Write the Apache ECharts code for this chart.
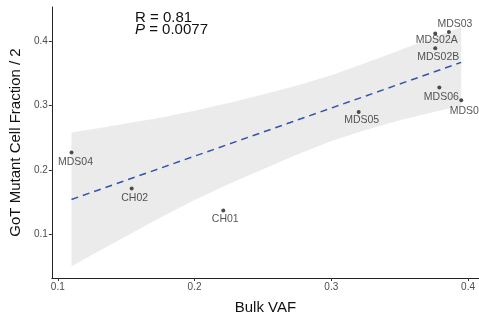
<!DOCTYPE html>
<html>
<head>
<meta charset="utf-8">
<script src="https://cdn.jsdelivr.net/npm/echarts@6/dist/echarts.min.js"></script>
<style>html,body{margin:0;padding:0;background:#fff;}#c{width:479px;height:324px;}</style>
</head>
<body>
<div id="c"></div>
<script>
// Sample data
const sampleNames = ['MDS04', 'CH02', 'CH01', 'MDS05', 'MDS06', 'MDS01', 'MDS02B', 'MDS02A', 'MDS03'];
const bulkVAF = [0.110, 0.154, 0.221, 0.320, 0.379, 0.395, 0.376, 0.376, 0.386];
const gotFraction = [0.227, 0.171, 0.137, 0.290, 0.328, 0.308, 0.389, 0.412, 0.414];

// Fitted line and confidence band
const fitX = [0.110, 0.395];
const fitY = [0.154, 0.367];
const bandX = [0.110, 0.125, 0.150, 0.175, 0.200, 0.225, 0.250, 0.275, 0.300, 0.325, 0.350, 0.375, 0.395];
const bandLow = [0.050, 0.068, 0.097, 0.126, 0.153, 0.178, 0.201, 0.224, 0.245, 0.262, 0.277, 0.290, 0.300];
const bandHigh = [0.258, 0.263, 0.272, 0.281, 0.292, 0.304, 0.317, 0.331, 0.347, 0.366, 0.386, 0.406, 0.421];

const xTicks = [0.1, 0.2, 0.3, 0.4];
const yTicks = [0.1, 0.2, 0.3, 0.4];

// label offsets (style only)
const labelOffsets = [[4, 9.5], [3, 10], [2, 9], [3, 8.5], [2, 9.5], [6, 10.5], [3, 9], [1.5, 7], [6, -7.5]];

const chart = echarts.init(document.getElementById('c'));
const tickLabelStyle = { fontFamily: 'Liberation Sans, Arial, sans-serif', fontSize: 10, color: '#4d4d4d' };
chart.setOption({
  animation: false,
  grid: { left: 51, right: 0, top: 7, bottom: 46, containLabel: false },
  xAxis: {
    type: 'value', min: 0.0956, max: 0.408,
    name: 'Bulk VAF', nameLocation: 'middle', nameGap: 22,
    nameTextStyle: { fontFamily: 'Liberation Sans, Arial, sans-serif', fontSize: 15, color: '#111' },
    axisLine: { show: true, lineStyle: { color: '#222', width: 1 } },
    axisTick: { show: true, customValues: xTicks, length: 3, lineStyle: { color: '#333' } },
    axisLabel: Object.assign({ customValues: xTicks, margin: 4, formatter: v => v.toFixed(1) }, tickLabelStyle),
    splitLine: { show: false }
  },
  yAxis: {
    type: 'value', min: 0.032, max: 0.453,
    name: 'GoT Mutant Cell Fraction / 2', nameLocation: 'middle', nameGap: 26,
    nameTextStyle: { fontFamily: 'Liberation Sans, Arial, sans-serif', fontSize: 15, color: '#111' },
    axisLine: { show: true, lineStyle: { color: '#222', width: 1 } },
    axisTick: { show: true, customValues: yTicks, length: 3, lineStyle: { color: '#333' } },
    axisLabel: Object.assign({ customValues: yTicks, margin: 4, formatter: v => v.toFixed(1) }, tickLabelStyle),
    splitLine: { show: false }
  },
  graphic: [
    { type: 'text', left: 135, top: 10, style: { text: 'R = 0.81', font: '15px "Liberation Sans", Arial, sans-serif', fill: '#111' } },
    { type: 'text', left: 135, top: 22, style: {
        text: '{i|P} = 0.0077', font: '15px "Liberation Sans", Arial, sans-serif', fill: '#111',
        rich: { i: { fontStyle: 'italic', fontSize: 15, fontFamily: 'Liberation Sans, Arial, sans-serif', fill: '#111' } } } }
  ],
  series: [
    {
      type: 'custom', z: 1, silent: true,
      data: bandX.map((x, i) => [x, bandLow[i], bandHigh[i]]),
      renderItem: function (params, api) {
        if (params.dataIndex !== 0) return null;
        const pts = [];
        for (let i = 0; i < bandX.length; i++) pts.push(api.coord([bandX[i], bandHigh[i]]));
        for (let i = bandX.length - 1; i >= 0; i--) pts.push(api.coord([bandX[i], bandLow[i]]));
        return { type: 'polygon', shape: { points: pts }, style: { fill: '#ebebeb' } };
      }
    },
    {
      type: 'line', z: 2, silent: true, symbol: 'none',
      data: fitX.map((x, i) => [x, fitY[i]]),
      lineStyle: { color: '#3653ab', width: 1.5, type: [7, 5] }
    },
    {
      type: 'scatter', z: 3, symbolSize: 4,
      itemStyle: { color: '#222' },
      data: sampleNames.map((n, i) => ({
        name: n, value: [bulkVAF[i], gotFraction[i]],
        label: { offset: labelOffsets[i] }
      })),
      label: {
        show: true, position: 'inside', formatter: p => p.name,
        fontFamily: 'Liberation Sans, Arial, sans-serif', fontSize: 10.5, color: '#2a2a2a'
      }
    }
  ]
});
</script>
</body>
</html>
